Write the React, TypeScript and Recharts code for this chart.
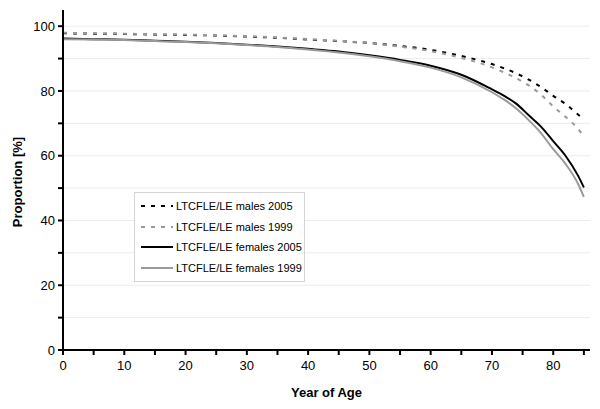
import {
	LineChart,
	Line,
	XAxis,
	YAxis,
	CartesianGrid,
	Legend,
	Label,
} from 'recharts'

const ages = [0, 5, 10, 15, 20, 25, 30, 35, 40, 45, 50, 55, 60, 65, 70, 72, 74, 76, 78, 80, 82, 84, 85]

const males2005 = [97.8, 97.7, 97.6, 97.4, 97.3, 97.1, 96.8, 96.4, 95.9, 95.4, 94.8, 93.9, 92.7, 90.8, 88.3, 87.0, 85.4, 83.5, 81.2, 78.5, 76.0, 72.8, 71.2]
const males1999 = [98.0, 97.8, 97.7, 97.5, 97.4, 97.2, 96.9, 96.5, 96.0, 95.5, 94.8, 93.7, 92.3, 90.2, 87.3, 85.7, 83.9, 81.7, 78.9, 75.2, 72.0, 68.4, 66.0]
const females2005 = [96.2, 96.0, 95.8, 95.5, 95.2, 94.8, 94.3, 93.7, 93.0, 92.2, 91.0, 89.6, 87.8, 85.0, 80.5, 78.5, 76.0, 72.5, 69.0, 64.5, 60.0, 54.0, 50.2]
const females1999 = [96.0, 95.9, 95.7, 95.4, 95.1, 94.7, 94.2, 93.6, 92.8, 91.9, 90.7, 89.2, 87.2, 84.2, 79.6, 77.3, 74.5, 71.0, 67.0, 62.0, 57.5, 51.5, 47.3]

const xTicks = [0, 5, 10, 15, 20, 25, 30, 35, 40, 45, 50, 55, 60, 65, 70, 75, 80, 85]
const yTicks = [0, 10, 20, 30, 40, 50, 60, 70, 80, 90, 100]

const data = ages.map((age, i) => ({
	age,
	m2005: males2005[i],
	m1999: males1999[i],
	f2005: females2005[i],
	f1999: females1999[i],
}))

const series = [
	{ key: 'm2005', name: 'LTCFLE/LE males 2005', color: '#000000', dash: '4 6' },
	{ key: 'm1999', name: 'LTCFLE/LE males 1999', color: '#9a9a9a', dash: '4 6' },
	{ key: 'f2005', name: 'LTCFLE/LE females 2005', color: '#000000', dash: undefined },
	{ key: 'f1999', name: 'LTCFLE/LE females 1999', color: '#9a9a9a', dash: undefined },
]

const LegendBox = () => (
	<div
		style={{
			border: '1px solid #d4d4d4',
			background: '#fff',
			width: 163,
			padding: '3px 0 3px 6px',
			fontSize: 11,
			color: '#000',
		}}
	>
		{series.map((s) => (
			<div key={s.key} style={{ display: 'flex', alignItems: 'center', height: 20.5 }}>
				<svg width={34} height={6}>
					<line
						x1={0}
						y1={3}
						x2={32}
						y2={3}
						stroke={s.color}
						strokeWidth={2}
						strokeDasharray={s.dash ? '4 6' : undefined}
					/>
				</svg>
				<span style={{ marginLeft: 1 }}>{s.name}</span>
			</div>
		))}
	</div>
)

export default function App() {
	return (
		<div
			style={{
				position: 'absolute',
				left: 0,
				top: 0,
				fontFamily: '"Liberation Sans", Arial, sans-serif',
				background: '#fff',
			}}
		>
			<LineChart
				width={600}
				height={409}
				data={data}
				margin={{ top: 10, right: 10, left: 0, bottom: 0 }}
			>
				<CartesianGrid vertical={false} stroke='#ececec' horizontalValues={yTicks} />
				<XAxis
					dataKey='age'
					type='number'
					domain={[0, 86]}
					ticks={xTicks}
					interval={0}
					height={59}
					stroke='#000'
					tickLine={{ stroke: '#000', strokeWidth: 2 }}
					axisLine={{ stroke: '#000', strokeWidth: 2 }}
					tickSize={5}
					tickMargin={6}
					tick={{ fill: '#000', fontSize: 13 }}
					tickFormatter={(v: number) => (v % 10 === 0 ? String(v) : '')}
				>
					<Label
						value='Year of Age'
						position='insideBottom'
						offset={12}
						style={{ fontWeight: 'bold', fontSize: 13, fill: '#000' }}
					/>
				</XAxis>
				<YAxis
					type='number'
					domain={[0, 105]}
					ticks={yTicks}
					interval={0}
					width={63}
					stroke='#000'
					tickLine={{ stroke: '#000', strokeWidth: 2 }}
					axisLine={{ stroke: '#000', strokeWidth: 2 }}
					tickSize={5}
					tickMargin={3}
					tick={{ fill: '#000', fontSize: 13 }}
					tickFormatter={(v: number) => (v % 20 === 0 ? String(v) : '')}
				>
					<Label
						content={() => (
							<text
								x={22}
								y={182}
								transform='rotate(-90 22 182)'
								textAnchor='middle'
								style={{ fontWeight: 'bold', fontSize: 13, fill: '#000' }}
							>
								Proportion [%]
							</text>
						)}
					/>
				</YAxis>
				<Legend
					content={() => <LegendBox />}
					layout='vertical'
					verticalAlign='middle'
					align='center'
					wrapperStyle={{ left: 134, top: 192, width: 'auto' }}
				/>
				{series.map((s) => (
					<Line
						key={s.key}
						type='monotone'
						dataKey={s.key}
						name={s.name}
						stroke={s.color}
						strokeWidth={2}
						strokeDasharray={s.dash}
						dot={false}
						isAnimationActive={false}
					/>
				))}
			</LineChart>
		</div>
	)
}
